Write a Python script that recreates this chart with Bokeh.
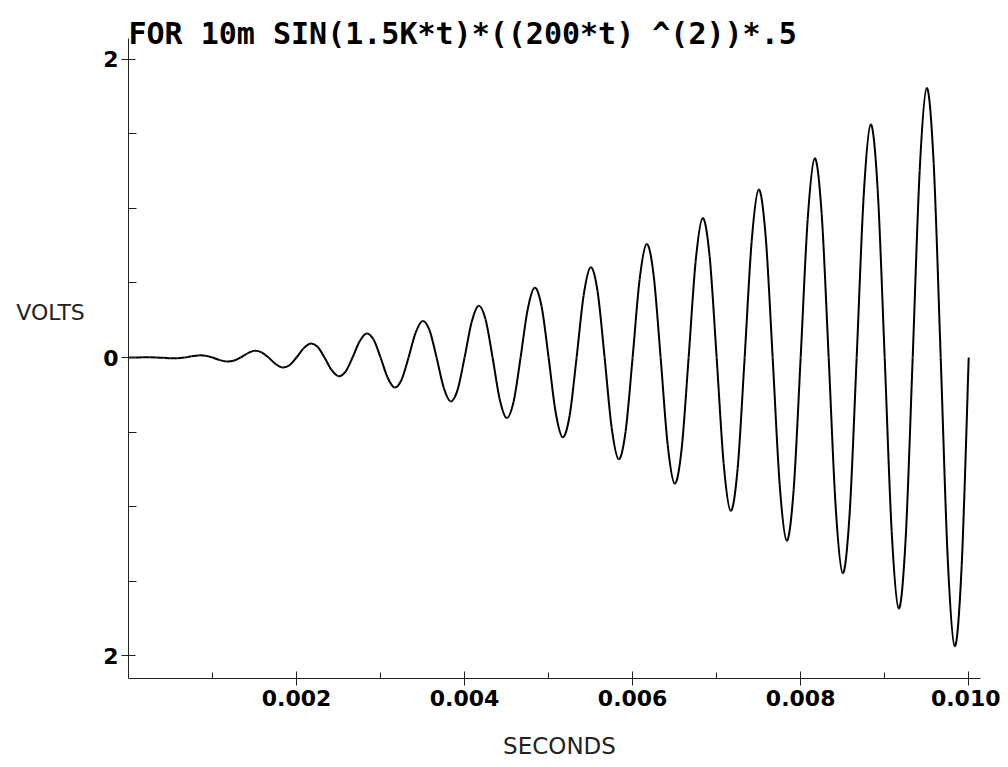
import numpy as np
from bokeh.plotting import figure
from bokeh.models import Range1d, FixedTicker, PrintfTickFormatter, Label, ColumnDataSource
from bokeh.embed import file_html
from bokeh.resources import INLINE

title_text = "FOR 10m SIN(1.5K*t)*((200*t) ^(2))*.5"
t_start, t_end, n_samples = 0.0, 0.010, 121
volts = [
    0.000, 0.000, 0.001, 0.001, 0.000, -0.002, -0.005, -0.005,
    0.000, 0.008, 0.014, 0.012, 0.000, -0.017, -0.027, -0.022,
    0.000, 0.028, 0.045, 0.035, 0.000, -0.043, -0.067, -0.052,
    0.000, 0.061, 0.094, 0.072, 0.000, -0.083, -0.125, -0.094,
    0.000, 0.107, 0.161, 0.120, 0.000, -0.134, -0.201, -0.149,
    0.000, 0.165, 0.245, 0.182, 0.000, -0.199, -0.294, -0.217,
    0.000, 0.236, 0.347, 0.255, 0.000, -0.276, -0.405, -0.297,
    0.000, 0.319, 0.467, 0.342, 0.000, -0.365, -0.534, -0.390,
    0.000, 0.415, 0.605, 0.441, 0.000, -0.468, -0.681, -0.495,
    0.000, 0.523, 0.761, 0.552, 0.000, -0.582, -0.845, -0.613,
    0.000, 0.644, 0.934, 0.677, 0.000, -0.710, -1.027, -0.743,
    0.000, 0.778, 1.125, 0.813, 0.000, -0.849, -1.227, -0.886,
    0.000, 0.924, 1.334, 0.963, 0.000, -1.002, -1.445, -1.042,
    0.000, 1.083, 1.561, 1.124, 0.000, -1.167, -1.681, -1.210,
    0.000, 1.254, 1.805, 1.299, 0.000, -1.344, -1.934, -1.391,
    0.000,
]
x_major = [0.002, 0.004, 0.006, 0.008, 0.010]
x_minor = [0.001, 0.003, 0.005, 0.007, 0.009]
y_major = [-2, 0, 2]
y_minor = [-1.5, -1.0, -0.5, 0.5, 1.0, 1.5]
y_labels = {-2: "2", 0: "0", 2: "2"}

# axis extents (data units)
x_axis_span = (0.0, 0.01014)
y_axis_span = (-2.151, 2.137)

seconds = np.linspace(t_start, t_end, n_samples)
v = np.array(volts)

# smooth curve through the read points (Catmull-Rom drawn as cubic Bezier segments)
xp = np.concatenate([[seconds[0]], seconds, [seconds[-1]]])
yp = np.concatenate([[v[0]], v, [v[-1]]])
i = np.arange(1, len(xp) - 2)
src = ColumnDataSource(dict(
    x0=xp[i], y0=yp[i], x1=xp[i + 1], y1=yp[i + 1],
    cx0=xp[i] + (xp[i + 1] - xp[i - 1]) / 6, cy0=yp[i] + (yp[i + 1] - yp[i - 1]) / 6,
    cx1=xp[i + 1] - (xp[i + 2] - xp[i]) / 6, cy1=yp[i + 1] - (yp[i + 2] - yp[i]) / 6,
))

W, H = 1000, 760
p = figure(
    width=W, height=H,
    x_range=Range1d(-0.0015234, 0.0103784), y_range=Range1d(-2.7002, 2.3920),
    output_backend="svg", toolbar_location=None,
    min_border=0, min_border_left=0, min_border_right=0, min_border_top=0, min_border_bottom=0,
    background_fill_color="white", border_fill_color="white", outline_line_color=None,
)
p.grid.visible = False

p.bezier(x0="x0", y0="y0", x1="x1", y1="y1", cx0="cx0", cy0="cy0", cx1="cx1", cy1="cy1",
         source=src, line_color="black", line_width=2)

bold = "DejaVu Sans"
mono = "DejaVu Sans Mono"

xa = p.xaxis[0]
xa.fixed_location = y_axis_span[0]
xa.bounds = x_axis_span
xa.ticker = FixedTicker(ticks=x_major, minor_ticks=x_minor)
xa.formatter = PrintfTickFormatter(format="%.3f")
xa.axis_line_color = "#222222"
xa.axis_line_width = 1
xa.major_tick_in = 7
xa.major_tick_out = 7
xa.minor_tick_in = 6
xa.minor_tick_out = 0
xa.major_tick_line_color = "#222222"
xa.minor_tick_line_color = "#222222"
xa.major_label_text_font = bold
xa.major_label_text_font_style = "bold"
xa.major_label_text_font_size = "22px"
xa.major_label_text_color = "black"
xa.major_label_standoff = 4

ya = p.yaxis[0]
ya.fixed_location = x_axis_span[0]
ya.bounds = y_axis_span
ya.ticker = FixedTicker(ticks=y_major, minor_ticks=y_minor)
ya.major_label_overrides = y_labels
ya.axis_line_color = "#222222"
ya.axis_line_width = 1
ya.major_tick_in = 7
ya.major_tick_out = 7
ya.minor_tick_in = 8
ya.minor_tick_out = 0
ya.major_tick_line_color = "#222222"
ya.minor_tick_line_color = "#222222"
ya.major_label_text_font = bold
ya.major_label_text_font_style = "bold"
ya.major_label_text_font_size = "22px"
ya.major_label_text_color = "black"
ya.major_label_standoff = 3

p.add_layout(Label(x=0, y=2.171, text=title_text, text_font=mono, text_font_style="bold",
                   text_font_size="30px", text_color="black", text_align="left",
                   text_baseline="alphabetic"))
p.add_layout(Label(x=-0.000928, y=0.30, text="VOLTS", text_font="DejaVu Sans",
                   text_font_size="22px", text_color="#222222", text_align="center",
                   text_baseline="middle"))
p.add_layout(Label(x=0.00513, y=-2.600, text="SECONDS", text_font="DejaVu Sans",
                   text_font_size="23px", text_color="#222222", text_align="center",
                   text_baseline="middle"))

open("out.html", "w").write(file_html(p, INLINE))
